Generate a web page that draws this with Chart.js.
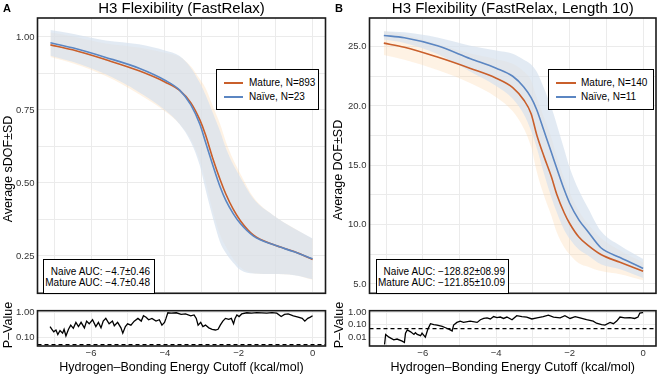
<!DOCTYPE html>
<html><head><meta charset="utf-8">
<script src="https://cdn.jsdelivr.net/npm/chart.js@4.4.1/dist/chart.umd.min.js"></script>
<style>
html,body{margin:0;padding:0;background:#fff;}
body{position:relative;width:661px;height:375px;overflow:hidden;font-family:"Liberation Sans",Arial,Helvetica,sans-serif;color:#000;}
canvas{position:absolute;}
.ytitle{position:absolute;white-space:nowrap;transform:translate(-50%,-50%) rotate(-90deg);font-size:12.5px;line-height:1;}
.letter{position:absolute;font-weight:bold;font-size:11px;line-height:1;}
.box{position:absolute;box-sizing:border-box;border:1.2px solid #000;background:#fff;}
.sw{position:absolute;height:1.6px;}
.lt{position:absolute;font-size:10px;line-height:12px;white-space:nowrap;}
.auc{position:absolute;font-size:10px;line-height:12px;text-align:right;white-space:nowrap;}
</style></head><body>
<canvas id="mainA" width="330" height="302" style="left:0;top:0"></canvas>
<canvas id="pA" width="330" height="73" style="left:0;top:302px"></canvas>
<canvas id="mainB" width="331" height="302" style="left:330px;top:0"></canvas>
<canvas id="pB" width="331" height="73" style="left:330px;top:302px"></canvas>

<div class="letter" style="left:3px;top:3px">A</div>
<div class="letter" style="left:335px;top:3px">B</div>
<div class="ytitle" style="left:8px;top:169px">Average sDOF±SD</div>
<div class="ytitle" style="left:8px;top:325px">P–Value</div>
<div class="ytitle" style="left:338px;top:170px">Average DOF±SD</div>
<div class="ytitle" style="left:339px;top:325px">P–Value</div>

<div class="box" style="left:216px;top:69px;width:103px;height:41px">
  <div class="sw" style="left:7px;top:12.3px;width:19px;background:#c95f2b"></div>
  <div class="lt" style="left:32px;top:7px">Mature, N=893</div>
  <div class="sw" style="left:7px;top:26px;width:19px;background:#5b86c2"></div>
  <div class="lt" style="left:32px;top:20.8px">Naïve, N=23</div>
</div>
<div class="box" style="left:548px;top:69px;width:106px;height:41px">
  <div class="sw" style="left:7px;top:12.3px;width:20px;background:#c95f2b"></div>
  <div class="lt" style="left:32px;top:7px">Mature, N=140</div>
  <div class="sw" style="left:7px;top:26px;width:20px;background:#5b86c2"></div>
  <div class="lt" style="left:32px;top:20.8px">Naïve, N=11</div>
</div>
<div class="box" style="left:43px;top:259px;width:112px;height:35px">
  <div class="auc" style="right:4px;top:5.5px">Naive AUC: −4.7±0.46</div>
  <div class="auc" style="right:4px;top:17.1px">Mature AUC: −4.7±0.48</div>
</div>
<div class="box" style="left:376px;top:259px;width:133px;height:35px">
  <div class="auc" style="right:3px;top:5.5px">Naive AUC: −128.82±08.99</div>
  <div class="auc" style="right:3px;top:17.1px">Mature AUC: −121.85±10.09</div>
</div>

<script>
// ---------------- data ----------------
const xTicks = [-7, -6, -5, -4, -3, -2, -1, 0];
const xTickLabels = {"-6": "−6", "-4": "−4", "-2": "−2", "0": "0"};
const yTicksA = [0.125, 0.25, 0.375, 0.5, 0.625, 0.75, 0.875, 1.0];
const yTickLabelsA = {"0.25": "0.25", "0.5": "0.50", "0.75": "0.75", "1": "1.00"};
const yTicksB = [5, 7.5, 10, 12.5, 15, 17.5, 20, 22.5, 25];
const yTickLabelsB = {"5": "5.0", "10": "10.0", "15": "15.0", "20": "20.0", "25": "25.0"};
const pTicksA = [0.1, 1];
const pTicksB = [0.01, 0.1, 1];
const pTickLabels = {"0.01": "0.01", "0.1": "0.10", "1": "1.00"};
const pThreshold = 0.05;

// Panel A: sDOF vs cutoff
const xA        = [-7.1, -6.5, -5.6, -4.7, -4.0, -3.6, -3.3, -3.05, -2.9, -2.7, -2.5, -2.35, -2.15, -1.95, -1.6, -1.05, -0.5, 0];
const matureA   = [0.973, 0.956, 0.922, 0.884, 0.846, 0.817, 0.775, 0.715, 0.665, 0.583, 0.510, 0.462, 0.410, 0.370, 0.321, 0.288, 0.265, 0.238];
const sdMatureA = [0.042, 0.046, 0.056, 0.080, 0.100, 0.115, 0.125, 0.140, 0.160, 0.180, 0.190, 0.180, 0.170, 0.160, 0.130, 0.100, 0.080, 0.070];
const naiveA    = [0.980, 0.963, 0.930, 0.893, 0.852, 0.818, 0.768, 0.700, 0.640, 0.560, 0.485, 0.440, 0.395, 0.360, 0.318, 0.288, 0.264, 0.240];
const sdNaiveA  = [0.044, 0.048, 0.058, 0.082, 0.102, 0.117, 0.127, 0.142, 0.162, 0.180, 0.190, 0.180, 0.168, 0.158, 0.128, 0.100, 0.080, 0.070];

// Panel B: DOF vs cutoff (length 10)
const xB        = [-7.06, -6.5, -5.6, -4.7, -4.0, -3.55, -3.25, -3.05, -2.9, -2.7, -2.5, -2.35, -2.15, -2.0, -1.75, -1.5, -1.15, -0.63, 0];
const matureB   = [25.29, 24.95, 24.12, 23.16, 22.34, 21.55, 20.5, 19.35, 17.6, 15.75, 14.05, 12.54, 11.0, 10.09, 8.95, 8.25, 7.48, 6.82, 6.06];
const sdMatureB = [1.0, 1.05, 1.1, 1.25, 1.6, 2.0, 2.4, 2.8, 3.1, 3.3, 3.3, 3.2, 2.9, 2.6, 2.2, 1.8, 1.4, 1.0, 0.75];
const naiveB    = [25.94, 25.75, 25.07, 23.98, 23.18, 22.5, 21.6, 20.7, 19.7, 17.9, 16.1, 14.72, 12.95, 11.8, 10.4, 9.4, 8.05, 7.23, 6.3];
const sdNaiveB  = [0.35, 0.45, 0.7, 1.1, 1.5, 1.9, 2.3, 2.8, 3.2, 3.6, 3.8, 3.7, 3.4, 3.0, 2.5, 2.0, 1.4, 1.0, 0.8];

// P-values (log scale)
const pxA = [-7.11,-7.06,-7.01,-6.95,-6.90,-6.84,-6.77,-6.73,-6.68,-6.61,-6.55,-6.48,-6.41,-6.34,-6.27,-6.18,-6.12,-6.05,-5.96,-5.87,-5.80,-5.73,-5.67,-5.60,-5.51,-5.42,-5.37,-5.28,-5.19,-5.14,-5.07,-5.01,-4.92,-4.83,-4.73,-4.64,-4.58,-4.51,-4.44,-4.35,-4.24,-4.15,-4.08,-4.01,-3.97,-3.92,-3.83,-3.69,-3.56,-3.44,-3.30,-3.21,-3.15,-3.10,-3.03,-2.97,-2.90,-2.81,-2.72,-2.63,-2.56,-2.50,-2.43,-2.36,-2.27,-2.20,-2.14,-2.10,-2.05,-1.99,-1.92,-1.78,-1.65,-1.51,-1.38,-1.24,-1.10,-0.97,-0.85,-0.76,-0.66,-0.52,-0.39,-0.28,-0.21,-0.13,-0.06,0];
const pA  = [0.27,0.21,0.165,0.196,0.128,0.187,0.146,0.21,0.113,0.21,0.31,0.23,0.40,0.27,0.40,0.24,0.45,0.35,0.51,0.27,0.40,0.24,0.45,0.58,0.35,0.45,0.29,0.40,0.24,0.146,0.27,0.35,0.31,0.45,0.58,0.45,0.74,0.65,0.51,0.58,0.45,0.51,0.31,0.40,0.58,0.98,0.95,0.98,0.84,0.88,0.74,0.80,0.58,0.31,0.40,0.27,0.31,0.24,0.21,0.196,0.21,0.31,0.45,0.58,0.53,0.58,0.35,0.58,0.80,0.69,0.88,0.98,0.95,0.99,0.98,0.95,0.99,0.95,0.69,0.84,0.88,0.74,0.65,0.58,0.45,0.58,0.65,0.74];
const pxB = [-7.04,-7.01,-6.92,-6.79,-6.70,-6.56,-6.50,-6.47,-6.42,-6.33,-6.24,-6.20,-6.15,-6.06,-6.02,-5.93,-5.86,-5.79,-5.70,-5.61,-5.47,-5.38,-5.29,-5.20,-5.16,-5.07,-4.98,-4.89,-4.71,-4.52,-4.43,-4.34,-4.25,-4.16,-4.07,-3.98,-3.89,-3.80,-3.71,-3.57,-3.44,-3.30,-3.17,-3.03,-2.89,-2.72,-2.58,-2.44,-2.26,-2.13,-1.99,-1.85,-1.72,-1.54,-1.36,-1.27,-1.13,-1.04,-0.90,-0.81,-0.72,-0.63,-0.50,-0.36,-0.23,-0.14,-0.09,-0.02,0];
const pB  = [0.0025,0.0165,0.010,0.006,0.007,0.0047,0.0037,0.021,0.039,0.027,0.0165,0.023,0.0165,0.013,0.021,0.010,0.045,0.123,0.105,0.095,0.074,0.058,0.045,0.032,0.095,0.157,0.20,0.157,0.20,0.157,0.26,0.33,0.37,0.30,0.47,0.39,0.43,0.33,0.43,0.26,0.55,0.47,0.43,0.30,0.37,0.47,0.61,0.43,0.37,0.55,0.33,0.47,0.37,0.26,0.20,0.135,0.105,0.095,0.157,0.123,0.20,0.43,0.37,0.39,0.33,0.43,0.91,0.98,0.99];

// ---------------- styling ----------------
const FONT = '"Liberation Sans", Arial, Helvetica, sans-serif';
const ORANGE = '#c95f2b', BLUE = '#5b86c2';
const ORANGE_BAND = 'rgba(252,215,172,0.32)', BLUE_BAND = 'rgba(214,225,238,0.7)';
const GRID = '#ebebeb';
const X_MIN = -7.45, X_MAX = 0.35;
const X_TITLE = 'Hydrogen–Bonding Energy Cutoff (kcal/mol)';

Chart.defaults.font.family = FONT;
Chart.defaults.color = '#333';
Chart.defaults.animation = false;

const framePlugin = {
  id: 'frame',
  afterDatasetsDraw(chart, args, opts) {
    const {ctx, chartArea: a, scales} = chart;
    ctx.save();
    if (opts && opts.threshold != null) {
      const y = scales.y.getPixelForValue(opts.threshold);
      ctx.setLineDash([4, 3]); ctx.lineWidth = 1.3; ctx.strokeStyle = '#000';
      ctx.beginPath(); ctx.moveTo(a.left, y); ctx.lineTo(a.right, y); ctx.stroke();
      ctx.setLineDash([]);
    }
    ctx.lineWidth = 1.6; ctx.strokeStyle = '#1a1a1a';
    ctx.strokeRect(a.left, a.top, a.right - a.left, a.bottom - a.top);
    ctx.restore();
  }
};

const pts = (xs, ys) => xs.map((x, i) => ({x, y: ys[i]}));
const key = v => String(Math.round(v * 1000) / 1000);

function xScale(showLabels) {
  const s = {
    type: 'linear', min: X_MIN, max: X_MAX,
    afterBuildTicks: sc => { sc.ticks = xTicks.map(v => ({value: v})); },
    grid: {color: GRID, drawTicks: false},
    border: {display: false}
  };
  if (showLabels) {
    s.ticks = {autoSkip: false, maxRotation: 0, padding: 2, font: {size: 9.5}, color: '#333',
               callback: v => xTickLabels[key(v)] || ''};
    s.title = {display: true, text: X_TITLE, color: '#000', font: {size: 12.5}, padding: 0};
    s.afterFit = sc => { sc.height = 29; };
  } else {
    s.ticks = {display: false};
    s.afterFit = sc => { sc.height = 0; };
  }
  return s;
}

function makeMain(id, c) {
  const upM = c.mature.map((v, i) => v + c.sdM[i]);
  const loM = c.mature.map((v, i) => v - c.sdM[i]);
  const upN = c.naive.map((v, i) => v + c.sdN[i]);
  const loN = c.naive.map((v, i) => v - c.sdN[i]);
  const band = {borderWidth: 0, borderColor: 'rgba(0,0,0,0)', pointRadius: 0};
  new Chart(document.getElementById(id), {
    type: 'line',
    data: {datasets: [
      Object.assign({data: pts(c.x, upM), fill: '+1', backgroundColor: ORANGE_BAND, order: 6}, band),
      Object.assign({data: pts(c.x, loM), fill: false, order: 5}, band),
      Object.assign({data: pts(c.x, upN), fill: '+1', backgroundColor: BLUE_BAND, order: 4}, band),
      Object.assign({data: pts(c.x, loN), fill: false, order: 3}, band),
      {data: pts(c.x, c.mature), borderColor: ORANGE, borderWidth: 1.6, pointRadius: 0, fill: false, order: 2},
      {data: pts(c.x, c.naive), borderColor: BLUE, borderWidth: 1.6, pointRadius: 0, fill: false, order: 1}
    ]},
    options: {
      responsive: false, animation: false,
      layout: {padding: {left: 0, right: c.padRight, top: 0, bottom: 0}},
      elements: {line: {cubicInterpolationMode: 'monotone'}},
      plugins: {
        legend: {display: false}, tooltip: {enabled: false},
        title: {display: true, text: c.title, color: '#000', font: {size: 15, weight: 'normal'},
                padding: {top: 0, bottom: 0}, fullSize: false},
        frame: {}
      },
      scales: {
        x: xScale(false),
        y: {type: 'linear', min: c.yMin, max: c.yMax,
            afterBuildTicks: sc => { sc.ticks = c.yTicks.map(v => ({value: v})); },
            ticks: {autoSkip: false, padding: 3, font: {size: 9.5}, color: '#333', callback: v => c.yLabels[key(v)] || ''},
            grid: {color: GRID, drawTicks: false}, border: {display: false},
            afterFit: sc => { sc.width = c.yWidth; }}
      }
    },
    plugins: [framePlugin]
  });
}

function makeP(id, c) {
  new Chart(document.getElementById(id), {
    type: 'line',
    data: {datasets: [{data: pts(c.x, c.p), borderColor: '#000', borderWidth: 1.3, pointRadius: 0, fill: false, tension: 0}]},
    options: {
      responsive: false, animation: false,
      layout: {padding: {left: 0, right: c.padRight, top: 0, bottom: 0}},
      plugins: {legend: {display: false}, tooltip: {enabled: false}, frame: {threshold: pThreshold}},
      scales: {
        x: xScale(true),
        y: {type: 'logarithmic', min: c.pMin, max: c.pMax,
            afterBuildTicks: sc => { sc.ticks = c.pTicks.map(v => ({value: v})); },
            ticks: {autoSkip: false, padding: 3, font: {size: 9.5}, color: '#333', callback: v => pTickLabels[key(v)] || ''},
            grid: {color: GRID, drawTicks: false}, border: {display: false},
            afterFit: sc => { sc.width = c.yWidth; }}
      }
    },
    plugins: [framePlugin]
  });
}

makeMain('mainA', {x: xA, mature: matureA, sdM: sdMatureA, naive: naiveA, sdN: sdNaiveA,
  yMin: 0.122, yMax: 1.065, yTicks: yTicksA, yLabels: yTickLabelsA, yWidth: 37.5, padRight: 4.5,
  title: 'H3 Flexibility (FastRelax)'});
makeP('pA', {x: pxA, p: pA, pMin: 0.044, pMax: 1.19, pTicks: pTicksA, yWidth: 37.5, padRight: 4.5});
makeMain('mainB', {x: xB, mature: matureB, sdM: sdMatureB, naive: naiveB, sdN: sdNaiveB,
  yMin: 4.21, yMax: 27.41, yTicks: yTicksB, yLabels: yTickLabelsB, yWidth: 39.5, padRight: 5,
  title: 'H3 Flexibility (FastRelax, Length 10)'});
makeP('pB', {x: pxB, p: pB, pMin: 0.0019, pMax: 1.41, pTicks: pTicksB, yWidth: 39.5, padRight: 5});
</script>
</body></html>
